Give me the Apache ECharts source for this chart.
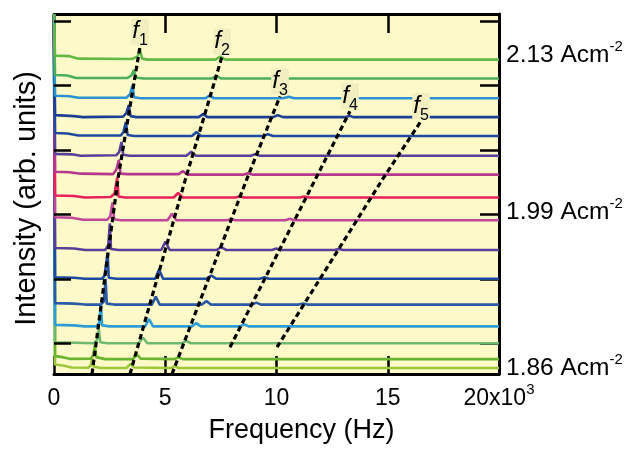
<!DOCTYPE html>
<html><head><meta charset="utf-8">
<script src="https://cdn.jsdelivr.net/npm/echarts@6/dist/echarts.min.js"></script>
<style>html,body{margin:0;padding:0;background:#fff}#c{width:631px;height:449px}</style>
</head><body><div id="c"></div>
<script>
const FONT = "'Liberation Sans', Arial, Helvetica, sans-serif";

// ---- data ----
const xTickLabels = ['0', '5', '10', '15', '20x10'];
const xTickExp = ['', '', '', '', '3'];
const yTickAt = [31, 96, 161, 226, 291, 356];
const currentLabels = ['1.86', '1.99', '2.13'];
const currentLabelAt = [10, 167.5, 325.5];

// vertical offsets of the traces (top trace first)
const offsets = [317, 298, 278, 259, 240, 220, 201, 178, 155, 125, 96, 70, 48, 31, 15, 6];

// spectra: [frequency Hz, intensity above offset]
const t1 = [[0,46],[45,4],[700,3.5],[1100,1],[3500,0.7],[3750,3],[3860,10],[3960,1],[4200,0],[7250,0],[7480,3],[7700,0],[20000,0]];
const t2 = [[0,65],[45,3.5],[600,3],[1000,0.5],[3300,0.5],[3480,3],[3590,8.5],[3680,1],[4000,0],[7100,0],[7300,2.5],[7500,0],[20000,0]];
const t3 = [[0,85],[45,2.5],[700,2],[1100,0.5],[3250,0.5],[3420,4],[3530,13],[3600,1],[3900,0],[6800,0],[7000,3],[7200,0],[10300,0],[10540,1.5],[10800,0],[20000,0]];
const t4 = [[0,104],[45,2],[900,1],[1300,0],[3100,0.5],[3250,4],[3360,12],[3440,1],[3700,0],[6500,0],[6700,3],[6900,0],[9850,0],[10060,2],[10300,0],[13100,0],[13280,1.3],[13450,0],[20000,0]];
const t5 = [[0,123],[45,3],[600,2.5],[1100,0.5],[3000,0.5],[3120,4],[3230,14],[3310,1],[3600,0],[6200,0],[6400,4],[6600,0],[9400,0],[9610,1.7],[9850,0],[20000,0]];
const t6 = [[0,143],[45,2],[800,1.5],[1200,0],[2800,0.5],[2930,4],[3035,14],[3110,1],[3400,0],[5950,0],[6170,4],[6380,0],[8850,0],[9040,1.7],[9250,0],[20000,0]];
const t7 = [[0,162],[45,3],[700,2.5],[1200,1],[2650,0.5],[2800,5],[2915,15],[2990,1],[3300,0.5],[5600,0.5],[5800,3.5],[6000,0],[8500,0],[8710,1.5],[8950,0],[20000,0]];
const t8 = [[0,185],[45,2],[900,1.5],[1400,0],[2550,0.5],[2720,4],[2840,20],[2900,1],[3200,0],[5380,0],[5580,4.5],[5780,0],[8150,0],[8340,1],[8550,0],[11050,0],[11250,1],[11450,0],[20000,0]];
const t9 = [[0,208],[45,3],[800,2.5],[1300,0.5],[2400,0.5],[2530,4],[2630,18],[2700,1],[3000,0],[5100,0],[5300,6.5],[5500,0],[7750,0],[7950,1],[8150,0],[10400,0],[10600,1.5],[10800,0],[20000,0]];
const t10 = [[0,238],[45,2],[900,1.5],[1400,0],[2300,0],[2440,5],[2510,27],[2560,1],[2900,0],[4820,0],[5010,8.5],[5200,0],[7300,0],[7520,3],[7750,0],[9800,0],[9990,1.5],[10200,0],[12600,0],[12800,1],[13000,0],[20000,0]];
const t11 = [[0,267],[45,1.5],[900,1],[1400,0],[2150,0],[2270,3],[2330,2],[2407,26],[2460,1],[2800,0],[4550,0],[4720,9.3],[4900,0],[6850,0],[7070,3.3],[7300,0],[9250,0],[9460,1.5],[9650,0],[20000,0]];
const t12 = [[0,293],[45,1.5],[900,1],[1400,0],[2100,0],[2240,3],[2318,26],[2370,1],[2700,0],[4400,0],[4574,8],[4750,0],[6650,0],[6850,3.5],[7050,0],[8900,0],[9090,2],[9300,0],[11000,0],[11210,1],[11400,0],[20000,0]];
const t13 = [[0,315],[45,1.5],[900,1],[1400,0],[1900,0],[2030,3],[2108,22],[2160,1],[2500,0],[4100,0],[4274,7.3],[4450,0],[6200,0],[6400,3.3],[6600,0],[8350,0],[8560,2],[8750,0],[20000,0]];
const t14 = [[0,332],[45,1],[1800,0],[1930,3],[2018,14],[2080,1],[2400,0],[3800,0],[4000,5.5],[4200,0],[5750,0],[5950,2.4],[6150,0],[20000,0]];
const t15 = [[0,348],[45,3],[400,2],[700,0.3],[1650,0.5],[1760,4],[1838,13.4],[1900,2],[2300,0],[3550,0],[3710,5],[3900,0.5],[5400,0],[5580,1.7],[5800,0],[20000,0]];
const t16 = [[0,357],[45,3.5],[400,2.5],[800,0.5],[1550,0.3],[1650,3],[1717,10],[1780,1.5],[2100,0],[3250,0],[3440,4.3],[3600,0.5],[5250,0],[5430,2],[5600,0],[20000,0]];
const traces = [t1,t2,t3,t4,t5,t6,t7,t8,t9,t10,t11,t12,t13,t14,t15,t16];

// mode guide lines (dashed)
const fNames = ['1', '2', '3', '4', '5'];
const f1Line = [[1708,0],[2876,197],[3865,330]];
const f2Line = [[3416,0],[5888,195],[7551,320]];
const f3Line = [[5303,0],[8674,197],[10157,280]];
const f4Line = [[7910,27],[13303,265]];
const f5Line = [[10022,27],[14786,197],[16494,255]];
const fLines = [f1Line, f2Line, f3Line, f4Line, f5Line];

// ---- styles ----
const colors = ['#62b946','#4caf5d','#2b93d1','#1d3f94','#1e4ba0','#5a3f98','#b6378e','#e8215c',
                '#c1479a','#5a3e97','#1c4b9d','#2a5aa5','#2d9dd7','#6db96f','#66b42f','#9cc73c'];

const series = [];
for (let i = traces.length - 1; i >= 0; i--) {
  series.push({
    type: 'line', symbol: 'none', clip: false, silent: true, z: 2,
    lineStyle: { color: colors[i], width: 2.6 },
    data: traces[i].map(p => [p[0], p[1] + offsets[i]])
  });
}
fLines.forEach((ln, k) => {
  series.push({
    type: 'line', symbol: 'circle', symbolSize: 0, showSymbol: true, showAllSymbol: true,
    silent: true, z: 4,
    lineStyle: { color: '#000', width: 3.2, type: [5.5, 3.5] },
    itemStyle: { color: 'rgba(0,0,0,0)' },
    data: ln.map((p, j) => j === ln.length - 1 ? {
      value: p,
      label: {
        show: true, position: 'top', distance: 2,
        formatter: '{f|f}{s|' + fNames[k] + '}',
        backgroundColor: '#f3eec0', padding: [1, 1, 1, 1],
        rich: {
          f: { fontSize: 24, fontStyle: 'italic', fontFamily: FONT, color: '#000', lineHeight: 24, verticalAlign: 'top' },
          s: { fontSize: 16, fontFamily: FONT, color: '#000', lineHeight: 16, padding: [18, 0, 0, 0] }
        }
      }
    } : p)
  });
});

const chart = echarts.init(document.getElementById('c'), null, { renderer: 'canvas' });
chart.setOption({
  animation: false,
  backgroundColor: '#fff',
  grid: { left: 54, right: 132, top: 14, bottom: 72, show: true, backgroundColor: '#fdf9c9', borderWidth: 0 },
  xAxis: [{
    type: 'value', min: 0, max: 20000, interval: 5000, position: 'bottom',
    name: 'Frequency (Hz)', nameLocation: 'middle', nameGap: 43,
    nameTextStyle: { fontSize: 27, fontFamily: FONT, color: '#000', padding: [0, 0, 0, 50] },
    axisLine: { show: true, onZero: false, lineStyle: { color: '#000', width: 3 } },
    axisTick: { show: true, inside: true, length: 18, lineStyle: { color: '#000', width: 2.5 } },
    axisLabel: {
      margin: 8, color: '#000',
      formatter: v => {
        const i = Math.round(v / 5000);
        return '{a|' + xTickLabels[i] + '}' + (xTickExp[i] ? '{b|' + xTickExp[i] + '}' : '');
      },
      rich: {
        a: { fontSize: 23, fontFamily: FONT, color: '#000', lineHeight: 23, padding: [10, 0, 0, 0] },
        b: { fontSize: 15, fontFamily: FONT, color: '#000', lineHeight: 14, verticalAlign: 'top' }
      }
    },
    splitLine: { show: false }
  }, {
    type: 'value', min: 0, max: 20000, interval: 5000, position: 'top',
    axisLine: { show: true, onZero: false, lineStyle: { color: '#000', width: 3 } },
    axisTick: { show: true, inside: true, length: 19, lineStyle: { color: '#000', width: 2.5 } },
    axisLabel: { show: false }, splitLine: { show: false }
  }],
  yAxis: [{
    type: 'value', min: 0, max: 363, position: 'left', z: 5,
    name: 'Intensity (arb. units)', nameLocation: 'middle', nameGap: 13,
    nameTextStyle: { fontSize: 29, fontFamily: FONT, color: '#000', padding: [0, 9, 0, 0] },
    axisLine: { show: false },
    axisTick: { show: true, inside: true, length: 17, customValues: yTickAt, lineStyle: { color: '#000', width: 2.5 } },
    axisLabel: { show: false }, splitLine: { show: false }
  }, {
    type: 'value', min: 0, max: 363, position: 'right',
    axisLine: { show: true, onZero: false, lineStyle: { color: '#000', width: 3 } },
    axisTick: { show: true, inside: true, length: 19, customValues: yTickAt, lineStyle: { color: '#000', width: 2.5 } },
    axisLabel: {
      show: true, margin: 7, customValues: currentLabelAt,
      formatter: v => {
        const i = currentLabelAt.indexOf(v);
        return '{n|' + currentLabels[i] + ' Acm}{p|-2}';
      },
      rich: {
        n: { fontSize: 24.5, fontFamily: FONT, color: '#000', lineHeight: 24, padding: [9, 0, 0, 0] },
        p: { fontSize: 15, fontFamily: FONT, color: '#000', lineHeight: 14, verticalAlign: 'top' }
      }
    },
    splitLine: { show: false }
  }],
  series: series
});
</script>
</body></html>
